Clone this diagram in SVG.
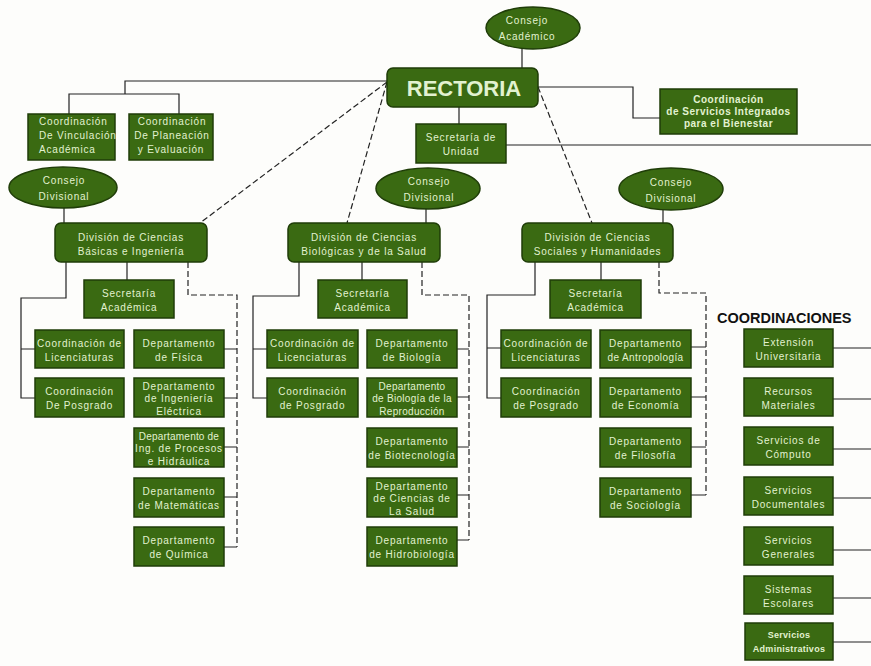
<svg xmlns="http://www.w3.org/2000/svg" width="871" height="666" viewBox="0 0 871 666">
  <style>
    .bx { fill: #3a6a12; stroke: #1f3d08; stroke-width: 1.5; }
    .t { font-family: "Liberation Sans", Arial, sans-serif; font-size: 10px; letter-spacing: 0.8px; fill: #e2f2d0; text-anchor: middle; }
    .tb { font-family: "Liberation Sans", Arial, sans-serif; font-size: 10px; letter-spacing: 0.5px; font-weight: bold; fill: #e2f2d0; text-anchor: middle; }
    .big { font-family: "Liberation Sans", Arial, sans-serif; font-size: 22px; font-weight: bold; fill: #e2f2d0; text-anchor: middle; }
    .ttl { font-family: "Liberation Sans", Arial, sans-serif; font-size: 14.5px; font-weight: bold; fill: #111; }
    .ln { fill: none; stroke: #222; stroke-width: 1.2; }
    .dl { fill: none; stroke: #222; stroke-width: 1.2; stroke-dasharray: 6 3; }
  </style>
  <rect width="871" height="666" fill="#fdfdfb"/>

  <!-- connectors -->
  <g id="connectors">
    <path class="ln" d="M522,48 V68"/>
    <path class="ln" d="M459,107 V124"/>
    <path class="ln" d="M506,145 H871"/>
    <path class="ln" d="M538,87 H633 V118 H660"/>
    <path class="ln" d="M387,81 H125 V94"/>
    <path class="ln" d="M69,114 V94 H179 V114"/>
    <!-- division: ciencias basicas -->
    <path class="ln" d="M64,207 V223"/>
    <path class="ln" d="M127,262 V280"/>
    <path class="ln" d="M66,262 V298 H21 V398 H35 M21,349 H35"/>
    <path class="dl" d="M188,262 V295 H237 V547"/>
    <path class="ln" d="M224,349 H237 M224,398 H237 M224,447 H237 M224,497 H237 M224,547 H237"/>
    <!-- division: ciencias biologicas -->
    <path class="ln" d="M426,208 V223"/>
    <path class="ln" d="M362,262 V280"/>
    <path class="ln" d="M299,262 V296 H253 V398 H267 M253,349 H267"/>
    <path class="dl" d="M422,262 V295 H469 V540"/>
    <path class="ln" d="M457,349 H469 M457,397 H469 M457,447 H469 M457,495 H469 M457,540 H469"/>
    <!-- division: ciencias sociales -->
    <path class="ln" d="M663,210 V223"/>
    <path class="ln" d="M601,262 V280"/>
    <path class="ln" d="M535,262 V295 H487 V398 H501 M487,348 H501"/>
    <path class="dl" d="M659,262 V293 H706 V495"/>
    <path class="ln" d="M691,347 H706 M691,397 H706 M691,447 H706 M691,495 H706"/>
    <!-- rectoria to divisions -->
    <path class="dl" d="M387,82 L200,223"/>
    <path class="dl" d="M387,82 L347,223"/>
    <path class="dl" d="M538,87 L592,223"/>
    <!-- coordinaciones -->
    <path class="ln" d="M833,348 H871 M833,399 H871 M833,449 H871 M833,498 H871 M833,550 H871 M833,598 H871 M833,642 H871"/>
  </g>

  <!-- top level -->
  <g id="consejo-academico">
    <ellipse class="bx" cx="533" cy="28" rx="47" ry="21"/>
    <text class="t" x="527" y="24">Consejo</text>
    <text class="t" x="527" y="40">Académico</text>
  </g>
  <g id="rectoria">
    <rect class="bx" x="387" y="68" width="151" height="39" rx="6"/>
    <text class="big" x="464" y="96">RECTORIA</text>
  </g>
  <g id="secretaria-unidad">
    <rect class="bx" x="416" y="124" width="90" height="39"/>
    <text class="t" x="461" y="140.5">Secretaría de</text>
    <text class="t" x="461" y="155">Unidad</text>
  </g>
  <g id="coord-bienestar">
    <rect class="bx" x="660" y="89" width="137" height="45"/>
    <text class="tb" x="728.5" y="103">Coordinación</text>
    <text class="tb" x="728.5" y="115">de Servicios Integrados</text>
    <text class="tb" x="728.5" y="127">para el Bienestar</text>
  </g>
  <g id="coord-vinculacion">
    <rect class="bx" x="28" y="114" width="87" height="46"/>
    <text class="t" x="39" y="125" style="text-anchor:start">Coordinación</text>
    <text class="t" x="39" y="139" style="text-anchor:start">De Vinculación</text>
    <text class="t" x="39" y="152.5" style="text-anchor:start">Académica</text>
  </g>
  <g id="coord-planeacion">
    <rect class="bx" x="129" y="114" width="84" height="46"/>
    <text class="t" x="172" y="125">Coordinación</text>
    <text class="t" x="172" y="139">De Planeación</text>
    <text class="t" x="171" y="152.5">y Evaluación</text>
  </g>

  <!-- division de ciencias basicas e ingenieria -->
  <g id="consejo-div-cbi">
    <ellipse class="bx" cx="63" cy="187.5" rx="54" ry="20.5"/>
    <text class="t" x="64" y="184">Consejo</text>
    <text class="t" x="64" y="200">Divisional</text>
  </g>
  <g id="div-cbi">
    <rect class="bx" x="55" y="223" width="152" height="39" rx="6"/>
    <text class="t" x="131" y="240.5">División de Ciencias</text>
    <text class="t" x="131" y="255">Básicas e Ingeniería</text>
  </g>
  <g id="sec-acad-cbi">
    <rect class="bx" x="84" y="280" width="90" height="38"/>
    <text class="t" x="129" y="296.5">Secretaría</text>
    <text class="t" x="129" y="310.5">Académica</text>
  </g>
  <g id="coord-lic-cbi">
    <rect class="bx" x="35" y="330" width="89" height="38"/>
    <text class="t" x="79.5" y="346.5">Coordinación de</text>
    <text class="t" x="79.5" y="360.5">Licenciaturas</text>
  </g>
  <g id="dept-fisica">
    <rect class="bx" x="134" y="330" width="90" height="38"/>
    <text class="t" x="179" y="346.5">Departamento</text>
    <text class="t" x="179" y="360.5">de Física</text>
  </g>
  <g id="coord-pos-cbi">
    <rect class="bx" x="35" y="378" width="89" height="39"/>
    <text class="t" x="79.5" y="394.5">Coordinación</text>
    <text class="t" x="79.5" y="409">De Posgrado</text>
  </g>
  <g id="dept-ing-electrica">
    <rect class="bx" x="134" y="378" width="90" height="39"/>
    <text class="t" x="179" y="389.5">Departamento</text>
    <text class="t" x="179" y="402">de Ingeniería</text>
    <text class="t" x="179" y="414.5">Eléctrica</text>
  </g>
  <g id="dept-procesos">
    <rect class="bx" x="134" y="428" width="90" height="39"/>
    <text class="t" x="179" y="439.5" style="letter-spacing:0.2px">Departamento de</text>
    <text class="t" x="179" y="452">Ing. de Procesos</text>
    <text class="t" x="179" y="464.5">e Hidráulica</text>
  </g>
  <g id="dept-matematicas">
    <rect class="bx" x="134" y="478" width="90" height="39"/>
    <text class="t" x="179" y="494.5">Departamento</text>
    <text class="t" x="179" y="509">de Matemáticas</text>
  </g>
  <g id="dept-quimica">
    <rect class="bx" x="134" y="527" width="90" height="39"/>
    <text class="t" x="179" y="543.5">Departamento</text>
    <text class="t" x="179" y="558">de Química</text>
  </g>

  <!-- division de ciencias biologicas y de la salud -->
  <g id="consejo-div-cbs">
    <ellipse class="bx" cx="428" cy="188.5" rx="52" ry="20.5"/>
    <text class="t" x="429" y="185">Consejo</text>
    <text class="t" x="429" y="201">Divisional</text>
  </g>
  <g id="div-cbs">
    <rect class="bx" x="288" y="223" width="152" height="39" rx="6"/>
    <text class="t" x="364" y="240.5">División de Ciencias</text>
    <text class="t" x="364" y="255">Biológicas y de la Salud</text>
  </g>
  <g id="sec-acad-cbs">
    <rect class="bx" x="318" y="280" width="89" height="38"/>
    <text class="t" x="362.5" y="296.5">Secretaría</text>
    <text class="t" x="362.5" y="310.5">Académica</text>
  </g>
  <g id="coord-lic-cbs">
    <rect class="bx" x="267" y="330" width="91" height="38"/>
    <text class="t" x="312.5" y="346.5">Coordinación de</text>
    <text class="t" x="312.5" y="360.5">Licenciaturas</text>
  </g>
  <g id="dept-biologia">
    <rect class="bx" x="367" y="330" width="90" height="38"/>
    <text class="t" x="412" y="346.5">Departamento</text>
    <text class="t" x="412" y="360.5">de Biología</text>
  </g>
  <g id="coord-pos-cbs">
    <rect class="bx" x="267" y="378" width="91" height="39"/>
    <text class="t" x="312.5" y="394.5">Coordinación</text>
    <text class="t" x="312.5" y="409">de Posgrado</text>
  </g>
  <g id="dept-bio-reproduccion">
    <rect class="bx" x="367" y="378" width="90" height="39"/>
    <text class="t" x="412" y="389.5" style="letter-spacing:0.3px">Departamento</text>
    <text class="t" x="412" y="402" style="letter-spacing:0.3px">de Biología de la</text>
    <text class="t" x="412" y="414.5" style="letter-spacing:0.3px">Reproducción</text>
  </g>
  <g id="dept-biotecnologia">
    <rect class="bx" x="367" y="428" width="90" height="39"/>
    <text class="t" x="412" y="444.5">Departamento</text>
    <text class="t" x="412" y="459">de Biotecnología</text>
  </g>
  <g id="dept-ciencias-salud">
    <rect class="bx" x="367" y="478" width="90" height="39"/>
    <text class="t" x="412" y="489.5">Departamento</text>
    <text class="t" x="412" y="502">de Ciencias de</text>
    <text class="t" x="412" y="514.5">La Salud</text>
  </g>
  <g id="dept-hidrobiologia">
    <rect class="bx" x="367" y="527" width="90" height="39"/>
    <text class="t" x="412" y="543.5">Departamento</text>
    <text class="t" x="412" y="558">de Hidrobiología</text>
  </g>

  <!-- division de ciencias sociales y humanidades -->
  <g id="consejo-div-csh">
    <ellipse class="bx" cx="671" cy="189" rx="52" ry="21"/>
    <text class="t" x="671" y="186">Consejo</text>
    <text class="t" x="671" y="202">Divisional</text>
  </g>
  <g id="div-csh">
    <rect class="bx" x="522" y="223" width="151" height="39" rx="6"/>
    <text class="t" x="597.5" y="240.5">División de Ciencias</text>
    <text class="t" x="597.5" y="255">Sociales y Humanidades</text>
  </g>
  <g id="sec-acad-csh">
    <rect class="bx" x="550" y="280" width="91" height="38"/>
    <text class="t" x="595.5" y="296.5">Secretaría</text>
    <text class="t" x="595.5" y="310.5">Académica</text>
  </g>
  <g id="coord-lic-csh">
    <rect class="bx" x="501" y="330" width="90" height="38"/>
    <text class="t" x="546" y="346.5">Coordinación de</text>
    <text class="t" x="546" y="360.5">Licenciaturas</text>
  </g>
  <g id="dept-antropologia">
    <rect class="bx" x="600" y="330" width="91" height="38"/>
    <text class="t" x="645.5" y="346.5">Departamento</text>
    <text class="t" x="645.5" y="360.5" style="letter-spacing:0.4px">de Antropología</text>
  </g>
  <g id="coord-pos-csh">
    <rect class="bx" x="501" y="378" width="90" height="39"/>
    <text class="t" x="546" y="394.5">Coordinación</text>
    <text class="t" x="546" y="409">de Posgrado</text>
  </g>
  <g id="dept-economia">
    <rect class="bx" x="600" y="378" width="91" height="39"/>
    <text class="t" x="645.5" y="394.5">Departamento</text>
    <text class="t" x="645.5" y="409">de Economía</text>
  </g>
  <g id="dept-filosofia">
    <rect class="bx" x="600" y="428" width="91" height="39"/>
    <text class="t" x="645.5" y="444.5">Departamento</text>
    <text class="t" x="645.5" y="459">de Filosofía</text>
  </g>
  <g id="dept-sociologia">
    <rect class="bx" x="600" y="478" width="91" height="39"/>
    <text class="t" x="645.5" y="494.5">Departamento</text>
    <text class="t" x="645.5" y="509">de Sociología</text>
  </g>

  <!-- coordinaciones -->
  <text class="ttl" x="717" y="323">COORDINACIONES</text>
  <g id="coord-extension">
    <rect class="bx" x="744" y="329" width="89" height="38"/>
    <text class="t" x="788.5" y="345.5">Extensión</text>
    <text class="t" x="788.5" y="359.5">Universitaria</text>
  </g>
  <g id="coord-recursos">
    <rect class="bx" x="744" y="378" width="89" height="38"/>
    <text class="t" x="788.5" y="394.5">Recursos</text>
    <text class="t" x="788.5" y="408.5">Materiales</text>
  </g>
  <g id="coord-computo">
    <rect class="bx" x="744" y="427" width="89" height="38"/>
    <text class="t" x="788.5" y="443.5">Servicios de</text>
    <text class="t" x="788.5" y="457.5">Cómputo</text>
  </g>
  <g id="coord-documentales">
    <rect class="bx" x="744" y="477" width="89" height="38"/>
    <text class="t" x="788.5" y="493.5">Servicios</text>
    <text class="t" x="788.5" y="507.5">Documentales</text>
  </g>
  <g id="coord-generales">
    <rect class="bx" x="744" y="527" width="89" height="38"/>
    <text class="t" x="788.5" y="543.5">Servicios</text>
    <text class="t" x="788.5" y="557.5">Generales</text>
  </g>
  <g id="coord-escolares">
    <rect class="bx" x="744" y="576" width="89" height="38"/>
    <text class="t" x="788.5" y="592.5">Sistemas</text>
    <text class="t" x="788.5" y="606.5">Escolares</text>
  </g>
  <g id="coord-administrativos">
    <rect class="bx" x="745" y="623" width="88" height="37"/>
    <text class="tb" x="789" y="638" style="font-size:9px;letter-spacing:0.3px">Servicios</text>
    <text class="tb" x="789" y="652" style="font-size:9px;letter-spacing:0.3px">Administrativos</text>
  </g>
</svg>
